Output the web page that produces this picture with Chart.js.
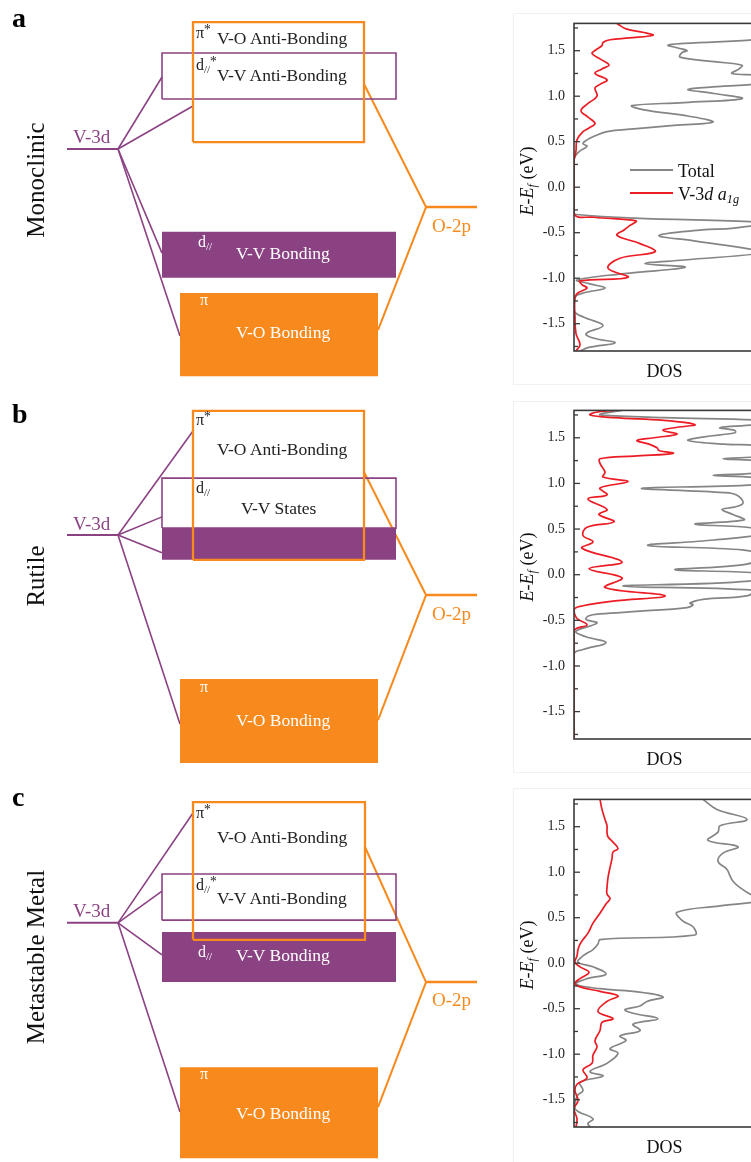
<!DOCTYPE html>
<html>
<head>
<meta charset="utf-8">
<script src="https://cdn.jsdelivr.net/npm/chart.js@4.4.1/dist/chart.umd.min.js"></script>
<style>
html, body { margin: 0; padding: 0; background: #fff; overflow: hidden; }
#page { position: relative; width: 751px; height: 1162px; overflow: hidden;
        font-family: 'Liberation Serif', 'Times New Roman', serif; color: #222; }
canvas { position: absolute; }
.t { position: absolute; white-space: nowrap; line-height: 1; }
.t sub { font-size: 0.68em; vertical-align: -0.28em; line-height: 0; }
.t sup { font-size: 0.85em; vertical-align: 0.3em; line-height: 0; }
.letter { font-weight: bold; font-size: 28px; color: #000; }
.phase { font-size: 25px; color: #111; transform: translate(-50%, -50%) rotate(-90deg); }
.ytitle { font-size: 18px; color: #111; transform: translate(-50%, -50%) rotate(-90deg); }
.v3d { font-size: 19px; color: #8b4283; }
.o2p { font-size: 19px; color: #f7891d; }
.band { font-size: 17.5px; }
.sym { font-size: 16px; }
.w { color: #fff; }
.frame { position: absolute; left: 513px; width: 260px; border: 1px solid #f1f1f1; }
.key { position: absolute; height: 0; width: 43px; border-top: 2px solid; }
</style>
</head>
<body>
<div id="page">
  <div class="frame" style="top:13px;height:370px"></div>
  <div class="frame" style="top:401px;height:370px"></div>
  <div class="frame" style="top:788px;height:373px"></div>

  <canvas id="mo-a" width="500" height="387" style="left:0;top:0"></canvas>
  <canvas id="mo-b" width="500" height="387" style="left:0;top:388px"></canvas>
  <canvas id="mo-c" width="500" height="387" style="left:0;top:775px"></canvas>

  <canvas id="dos-a" width="250" height="381" style="left:505px;top:6px"></canvas>
  <canvas id="dos-b" width="250" height="382" style="left:505px;top:393px"></canvas>
  <canvas id="dos-c" width="250" height="381" style="left:505px;top:782px"></canvas>

  <!-- panel a -->
  <div class="t letter" style="left:12px;top:4px">a</div>
  <div class="t phase" style="left:35px;top:180px">Monoclinic</div>
  <div class="t v3d" style="left:73px;top:127px">V-3d</div>
  <div class="t o2p" style="left:432px;top:216px">O-2p</div>
  <div class="t sym" style="left:196px;top:25px">π<sup>*</sup></div>
  <div class="t band" style="left:217px;top:30px">V-O Anti-Bonding</div>
  <div class="t sym" style="left:196px;top:57px">d<sub>//</sub><sup>*</sup></div>
  <div class="t band" style="left:217px;top:67px">V-V Anti-Bonding</div>
  <div class="t sym w" style="left:198px;top:234px">d<sub>//</sub></div>
  <div class="t band w" style="left:236px;top:245px">V-V Bonding</div>
  <div class="t sym w" style="left:200px;top:292px">π</div>
  <div class="t band w" style="left:236px;top:324px">V-O Bonding</div>
  <div class="t ytitle" style="left:527px;top:181px"><i>E</i>-<i>E</i><sub><i>f</i></sub> (eV)</div>
  <div class="key" style="left:630px;top:169px;border-color:#858585"></div>
  <div class="t" style="left:678px;top:162px;font-size:18px;color:#111">Total</div>
  <div class="key" style="left:630px;top:192px;border-color:#ec1c24"></div>
  <div class="t" style="left:678px;top:185px;font-size:18px;color:#111">V-3<i>d</i> <i>a</i><sub><i>1g</i></sub></div>

  <!-- panel b -->
  <div class="t letter" style="left:12px;top:400px">b</div>
  <div class="t phase" style="left:35px;top:576px">Rutile</div>
  <div class="t v3d" style="left:73px;top:514px">V-3d</div>
  <div class="t o2p" style="left:432px;top:604px">O-2p</div>
  <div class="t sym" style="left:196px;top:412px">π<sup>*</sup></div>
  <div class="t band" style="left:217px;top:441px">V-O Anti-Bonding</div>
  <div class="t sym" style="left:196px;top:480px">d<sub>//</sub></div>
  <div class="t band" style="left:241px;top:500px">V-V States</div>
  <div class="t sym w" style="left:200px;top:679px">π</div>
  <div class="t band w" style="left:236px;top:712px">V-O Bonding</div>
  <div class="t ytitle" style="left:527px;top:567px"><i>E</i>-<i>E</i><sub><i>f</i></sub> (eV)</div>

  <!-- panel c -->
  <div class="t letter" style="left:12px;top:783px">c</div>
  <div class="t phase" style="left:35px;top:957px">Metastable Metal</div>
  <div class="t v3d" style="left:73px;top:901px">V-3d</div>
  <div class="t o2p" style="left:432px;top:990px">O-2p</div>
  <div class="t sym" style="left:196px;top:805px">π<sup>*</sup></div>
  <div class="t band" style="left:217px;top:829px">V-O Anti-Bonding</div>
  <div class="t sym" style="left:196px;top:877px">d<sub>//</sub><sup>*</sup></div>
  <div class="t band" style="left:217px;top:890px">V-V Anti-Bonding</div>
  <div class="t sym w" style="left:198px;top:944px">d<sub>//</sub></div>
  <div class="t band w" style="left:236px;top:947px">V-V Bonding</div>
  <div class="t sym w" style="left:200px;top:1066px">π</div>
  <div class="t band w" style="left:236px;top:1105px">V-O Bonding</div>
  <div class="t ytitle" style="left:527px;top:955px"><i>E</i>-<i>E</i><sub><i>f</i></sub> (eV)</div>
</div>

<script>
// ---- MO schematic: level energies in arbitrary units (0 bottom .. 100 top) ----
// columns along the horizontal axis, same arbitrary units
const colV3d = [13.4, 23.6];
const colO2p = [85.2, 95.4];
const colVO = [[38.6, 72.8], [38.6, 72.8], [38.6, 73.0]];
const colVV = [32.4, 79.2];
const colBond = [36.0, 75.6];

// per phase: monoclinic, rutile, metastable metal
const v3dLevel = [61.5, 62.0, 61.8];
const o2pLevel = [46.5, 46.5, 46.5];
const voAntiBand = [[63.3, 94.3], [55.6, 94.1], [57.4, 93.0]];
const vvUpperBand = [[74.4, 86.3], [63.8, 76.7], [62.5, 74.4]];
const vvLowerBand = [[28.2, 40.1], [55.6, 63.8], [46.5, 59.4]];
const voBondBand = [[2.8, 24.3], [3.1, 24.8], [1.0, 24.5]];
// where the V-3d lines end: band edge and energy
const v3dLinkTo = [['vv', 'vo', 'vv', 'bond'], ['vo', 'vv', 'vv', 'bond'], ['vo', 'vv', 'vv', 'bond']];
const v3dLinkE = [[80.1, 72.6, 34.6, 13.2], [88.9, 66.7, 57.4, 13.2], [90.2, 70.0, 53.5, 12.9]];
// O-2p lines end on the right edge of the anti-bonding and bonding V-O bands
const o2pLinkE = [[78.3, 14.7], [78.3, 14.2], [81.4, 14.2]];

// ---- DOS curves: [E - Ef (eV), DOS (arb.)] ----
const monoTotal = [
  [1.80, 200], [1.68, 200], [1.63, 190], [1.58, 110], [1.56, 94], [1.53, 104], [1.50, 113], [1.48, 108],
  [1.43, 106], [1.38, 140], [1.34, 168], [1.30, 165], [1.25, 158], [1.22, 190], [1.15, 190], [1.11, 150],
  [1.075, 114], [1.03, 140], [0.974, 168], [0.93, 110], [0.896, 58], [0.85, 70], [0.78, 115], [0.716, 139],
  [0.68, 100], [0.64, 60], [0.61, 33], [0.56, 20], [0.52, 13], [0.48, 9], [0.45, 13], [0.40, 6],
  [0.34, 1], [0.30, 0],
  [-0.28, 0], [-0.30, 2], [-0.34, 60], [-0.39, 190], [-0.45, 160], [-0.47, 128], [-0.53, 85], [-0.59, 120],
  [-0.68, 176], [-0.72, 190], [-0.80, 110], [-0.84, 71], [-0.88, 111], [-0.95, 50], [-1.02, 3], [-1.06, 15],
  [-1.11, 31], [-1.16, 10], [-1.21, 1], [-1.36, 0], [-1.43, 10], [-1.52, 29], [-1.61, 12], [-1.66, 20],
  [-1.71, 41], [-1.76, 15], [-1.80, 6]
];
const monoA1g = [
  [1.80, 43], [1.74, 52], [1.70, 70], [1.67, 79], [1.64, 55], [1.62, 36], [1.59, 29], [1.556, 28],
  [1.51, 22], [1.47, 18], [1.41, 26], [1.343, 35], [1.30, 28], [1.25, 21], [1.18, 33], [1.13, 26],
  [1.09, 21], [1.00, 23], [0.92, 14], [0.84, 7], [0.77, 14], [0.70, 21], [0.65, 15], [0.61, 9],
  [0.52, 3], [0.40, 2], [0.34, 1], [0.29, 0],
  [-0.29, 0], [-0.33, 20], [-0.37, 62], [-0.42, 56], [-0.47, 50], [-0.53, 43], [-0.62, 66], [-0.71, 81],
  [-0.78, 46], [-0.89, 34], [-0.99, 54], [-1.03, 6], [-1.07, 8], [-1.11, 13], [-1.16, 4], [-1.21, 1],
  [-1.43, 1], [-1.61, 2], [-1.73, 6], [-1.80, 2]
];
const rutileTotal = [
  [1.80, 48], [1.77, 30], [1.75, 26], [1.72, 90], [1.69, 190], [1.65, 185], [1.61, 146], [1.58, 161],
  [1.555, 161], [1.51, 130], [1.47, 114], [1.43, 150], [1.40, 190], [1.31, 190], [1.27, 149], [1.23, 190],
  [1.13, 190], [1.09, 139], [1.05, 190], [0.99, 190], [0.947, 68], [0.90, 150], [0.87, 163], [0.786, 169],
  [0.74, 160], [0.715, 148], [0.66, 159], [0.60, 170], [0.554, 121], [0.51, 180], [0.45, 190], [0.38, 140],
  [0.32, 74], [0.27, 170], [0.20, 190], [0.11, 170], [0.054, 101], [0.01, 190], [-0.07, 175], [-0.125, 49],
  [-0.17, 179], [-0.23, 174], [-0.27, 129], [-0.31, 116], [-0.33, 119], [-0.36, 113], [-0.40, 66], [-0.43, 26],
  [-0.45, 15], [-0.49, 12], [-0.53, 23], [-0.62, 2], [-0.68, 12], [-0.745, 32], [-0.82, 9], [-0.87, 0],
  [-1.80, 0]
];
const rutileA1g = [
  [1.80, 40], [1.78, 22], [1.75, 16], [1.72, 40], [1.69, 90], [1.644, 121], [1.61, 100], [1.58, 89],
  [1.54, 103], [1.50, 80], [1.47, 63], [1.43, 75], [1.39, 83], [1.36, 85], [1.33, 99], [1.30, 60],
  [1.27, 26], [1.22, 26], [1.125, 31], [1.07, 29], [1.02, 54], [0.95, 26], [0.875, 33], [0.83, 14],
  [0.715, 33], [0.66, 25], [0.58, 40], [0.52, 13], [0.43, 9], [0.36, 19], [0.29, 8], [0.14, 48],
  [0.064, 15], [-0.035, 48], [-0.14, 31], [-0.23, 91], [-0.29, 39], [-0.34, 9], [-0.38, 0], [-0.48, 3],
  [-0.55, 13], [-0.62, 0], [-1.80, 0]
];
const metaTotal = [
  [1.80, 129], [1.69, 143], [1.58, 173], [1.51, 146], [1.44, 144], [1.35, 134], [1.28, 164], [1.21, 149],
  [1.12, 144], [1.03, 153], [0.96, 156], [0.90, 159], [0.83, 166], [0.74, 179], [0.69, 190], [0.63, 146],
  [0.56, 103], [0.47, 108], [0.40, 119], [0.31, 121], [0.26, 26], [0.21, 24], [0.15, 19], [0.08, 9],
  [0.01, 4], [-0.04, 19], [-0.12, 32], [-0.17, 13], [-0.23, 2], [-0.28, 26], [-0.31, 59], [-0.37, 89],
  [-0.42, 73], [-0.47, 66], [-0.51, 51], [-0.55, 59], [-0.61, 84], [-0.67, 59], [-0.74, 66], [-0.80, 46],
  [-0.85, 52], [-0.94, 36], [-0.99, 44], [-1.10, 33], [-1.19, 16], [-1.24, 29], [-1.31, 6], [-1.40, 9],
  [-1.46, 3], [-1.60, 1], [-1.71, 19], [-1.76, 14], [-1.80, 16]
];
const metaA1g = [
  [1.80, 26], [1.69, 28], [1.58, 31], [1.51, 33], [1.44, 33], [1.39, 34], [1.33, 39], [1.26, 44],
  [1.22, 39], [1.15, 38], [1.05, 36], [0.94, 34], [0.83, 33], [0.76, 33], [0.71, 36], [0.65, 32],
  [0.55, 26], [0.44, 19], [0.33, 14], [0.26, 9], [0.21, 6], [0.15, 4], [0.08, 3], [0.01, 1],
  [-0.04, 6], [-0.10, 15], [-0.17, 6], [-0.22, 1], [-0.26, 6], [-0.31, 26], [-0.36, 44], [-0.42, 33],
  [-0.53, 24], [-0.61, 39], [-0.65, 28], [-0.74, 26], [-0.85, 21], [-0.92, 23], [-1.01, 19], [-1.10, 18],
  [-1.17, 9], [-1.26, 13], [-1.33, 3], [-1.40, 1], [-1.51, 4], [-1.60, 0], [-1.71, 3], [-1.80, 2]
];

const eTicks = { min: -1.8, max: 1.8, step: 0.25 };
const dosMax = 181;

const purple = '#8b4283';
const orange = '#f7891d';
const gray = '#858585';
const red = '#ec1c24';

Chart.defaults.font.family = "'Liberation Serif', 'Times New Roman', serif";
Chart.defaults.animation = false;

function buildDiagram(id, i) {
  const layers = []; // painter's order, bottom first
  const base = { pointRadius: 0, tension: 0, fill: false, borderJoinStyle: 'miter', borderCapStyle: 'butt' };
  const pts = list => list.map(([x, y]) => ({ x, y }));
  const path = (list, color, width) => layers.push({ ...base, data: pts(list), borderColor: color, borderWidth: width });
  const outline = (xs, ys, color, width) =>
    path([[xs[0], ys[0]], [xs[1], ys[0]], [xs[1], ys[1]], [xs[0], ys[1]], [xs[0], ys[0]]], color, width);
  const slab = (xs, ys, color) => layers.push({
    ...base, data: pts([[xs[0], ys[1]], [xs[1], ys[1]]]), borderWidth: 0,
    borderColor: 'rgba(0,0,0,0)', backgroundColor: color, fill: { value: ys[0] }
  });

  const edge = { vv: colVV[0], vo: colVO[i][0], bond: colBond[0] };

  // connecting lines
  v3dLinkTo[i].forEach((to, k) => path([[colV3d[1], v3dLevel[i]], [edge[to], v3dLinkE[i][k]]], purple, 1.6));
  path([[colO2p[0], o2pLevel[i]], [colVO[i][1], o2pLinkE[i][0]]], orange, 2);
  path([[colO2p[0], o2pLevel[i]], [colBond[1], o2pLinkE[i][1]]], orange, 2);

  // bands
  slab(colBond, voBondBand[i], orange);
  slab(colVV, vvLowerBand[i], purple);
  outline(colVV, vvUpperBand[i], purple, 1.6);
  outline(colVO[i], voAntiBand[i], orange, 2.3);

  // atomic levels
  path([[colV3d[0], v3dLevel[i]], [colV3d[1], v3dLevel[i]]], purple, 2);
  path([[colO2p[0], o2pLevel[i]], [colO2p[1], o2pLevel[i]]], orange, 2.5);

  new Chart(document.getElementById(id), {
    type: 'line',
    data: { datasets: layers.reverse() },
    options: {
      responsive: false,
      events: [],
      layout: { padding: 0 },
      plugins: { legend: { display: false }, tooltip: { enabled: false } },
      scales: {
        x: { type: 'linear', min: 0, max: 100, display: false },
        y: { type: 'linear', min: 0, max: 100, display: false }
      }
    }
  });
}

// box around the plot plus inward ticks on the energy axis
const dosFrame = {
  id: 'dosFrame',
  afterDatasetsDraw(chart) {
    const { ctx, chartArea: a } = chart;
    const y = chart.scales.y;
    ctx.save();
    ctx.strokeStyle = '#3a3a3a';
    ctx.lineWidth = 1.6;
    ctx.strokeRect(a.left, a.top, a.right - a.left, a.bottom - a.top);
    ctx.lineWidth = 1.3;
    y.ticks.forEach(t => {
      const py = y.getPixelForValue(t.value);
      const major = Math.abs(t.value * 2 - Math.round(t.value * 2)) < 1e-6;
      ctx.beginPath();
      ctx.moveTo(a.left, py);
      ctx.lineTo(a.left + (major ? 6 : 4), py);
      ctx.stroke();
    });
    ctx.restore();
  }
};

function buildDos(id, total, a1g) {
  const toXY = list => list.map(([e, d]) => ({ x: d, y: e }));
  new Chart(document.getElementById(id), {
    type: 'line',
    data: {
      datasets: [
        { label: 'V-3d a1g', data: toXY(a1g), borderColor: red, borderWidth: 1.7, pointRadius: 0, tension: 0.4 },
        { label: 'Total', data: toXY(total), borderColor: gray, borderWidth: 1.7, pointRadius: 0, tension: 0.4 }
      ]
    },
    options: {
      responsive: false,
      events: [],
      layout: { padding: { top: 10, left: 0, right: 0, bottom: 0 } },
      plugins: { legend: { display: false }, tooltip: { enabled: false } },
      scales: {
        x: {
          type: 'linear', min: 0, max: dosMax,
          grid: { display: false, drawTicks: false }, border: { display: false }, ticks: { display: false },
          title: { display: true, text: 'DOS', color: '#111', font: { size: 18 }, padding: { top: 0, bottom: 4 } },
          afterFit(scale) { scale.height = 36; }
        },
        y: {
          type: 'linear', min: eTicks.min, max: eTicks.max,
          grid: { display: false, drawTicks: false }, border: { display: false },
          ticks: {
            stepSize: eTicks.step, includeBounds: false, autoSkip: false, padding: 9,
            color: '#222', font: { size: 14 },
            callback(v) { return Math.abs(v * 2 - Math.round(v * 2)) < 1e-6 ? v.toFixed(1) : ''; }
          },
          afterFit(scale) { scale.width = 69; }
        }
      }
    },
    plugins: [dosFrame]
  });
}

buildDiagram('mo-a', 0);
buildDiagram('mo-b', 1);
buildDiagram('mo-c', 2);
buildDos('dos-a', monoTotal, monoA1g);
buildDos('dos-b', rutileTotal, rutileA1g);
buildDos('dos-c', metaTotal, metaA1g);
</script>
</body>
</html>
